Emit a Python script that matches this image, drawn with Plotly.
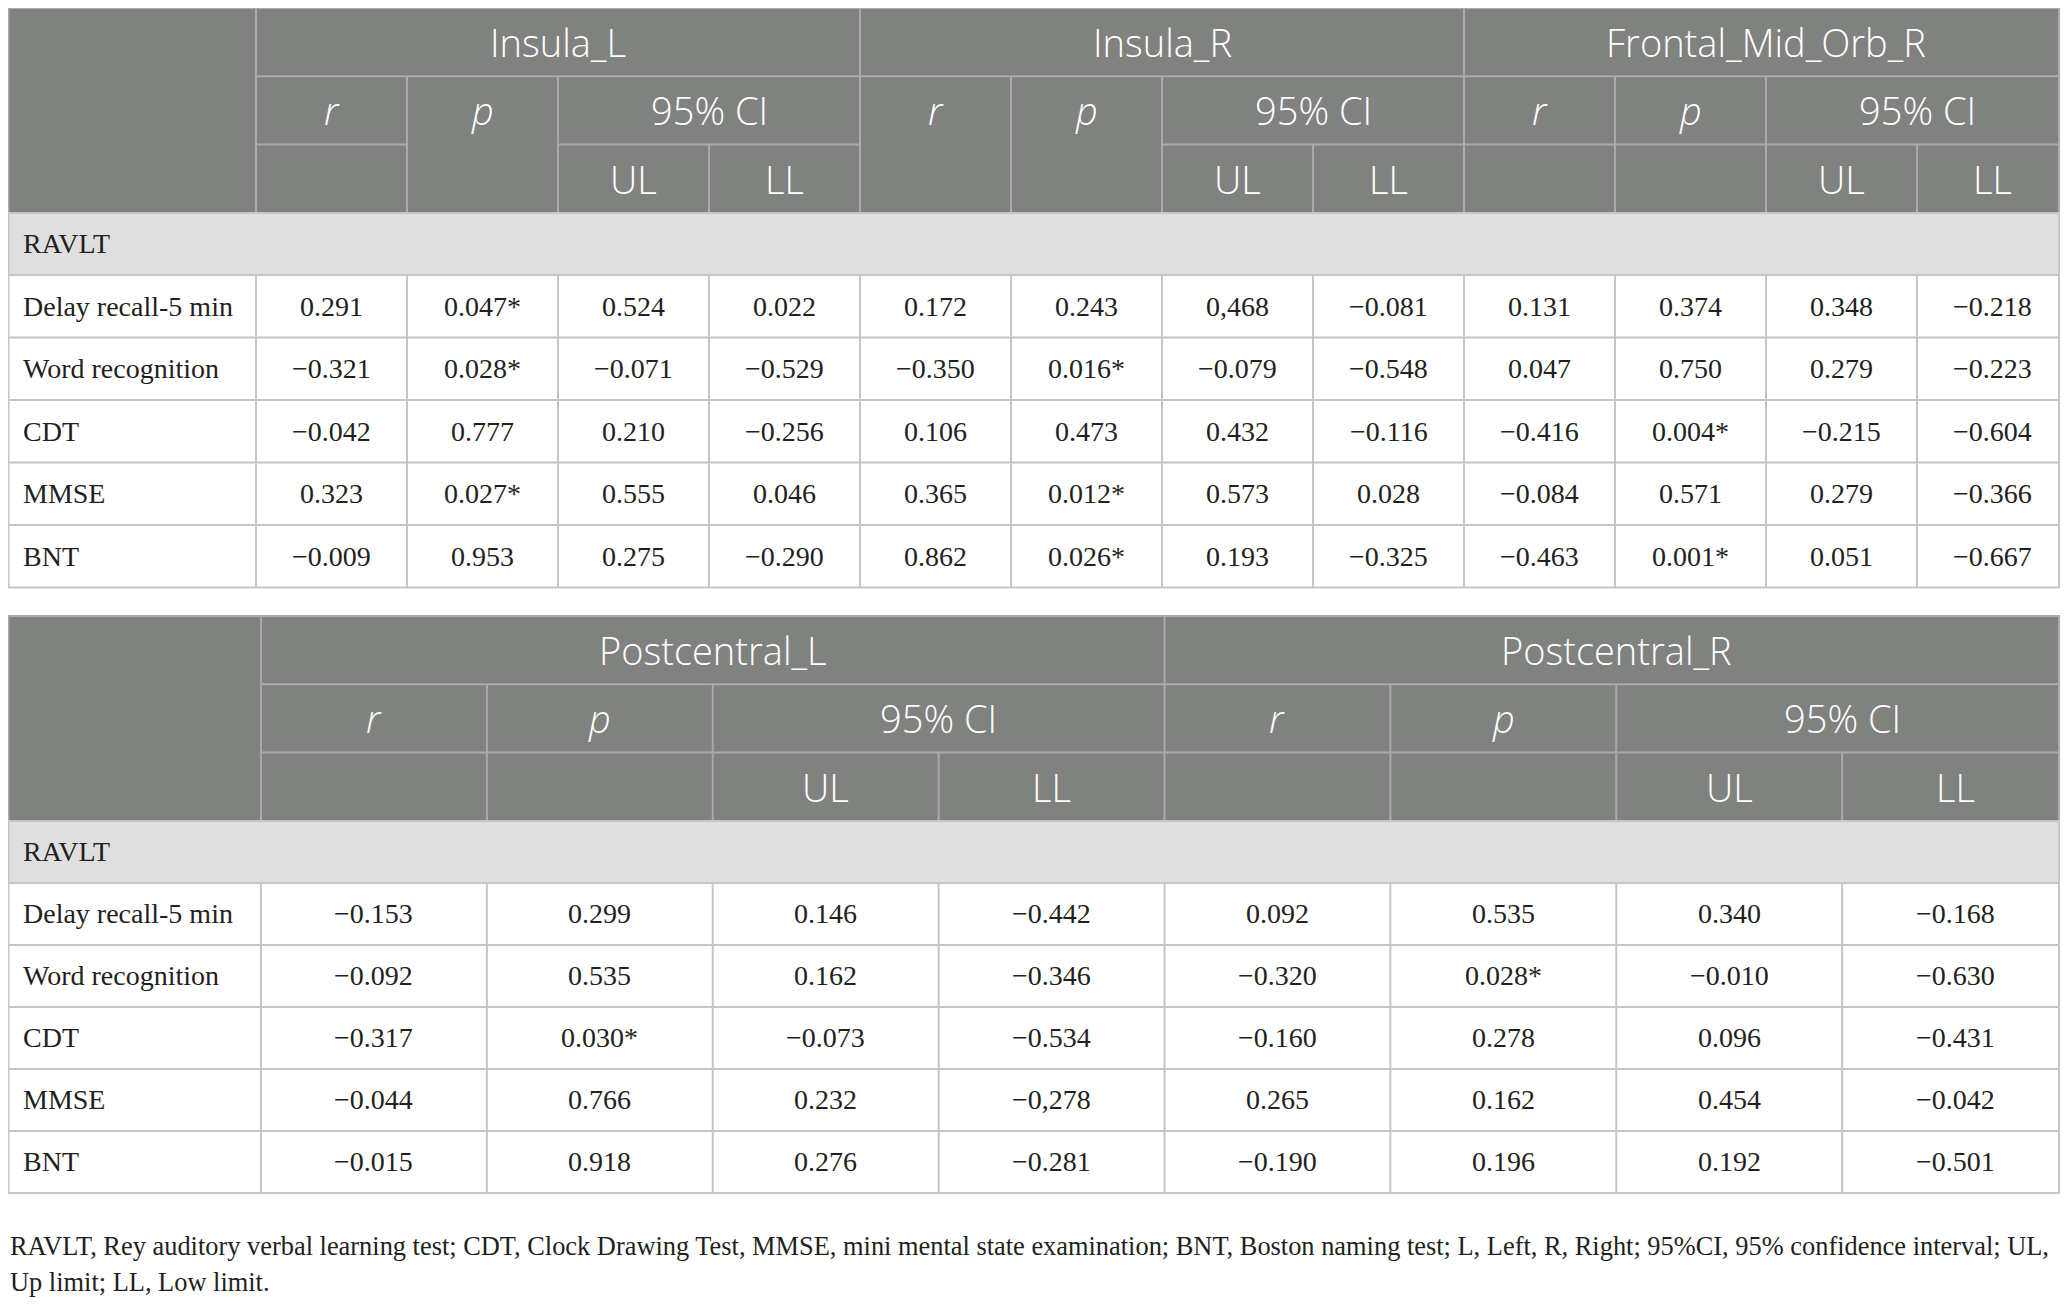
#%% Librerias
import plotly.graph_objects as go

# %% Datos de la tabla
filas = ["Delay recall-5 min", "Word recognition", "CDT", "MMSE", "BNT"]
grupo = "RAVLT"
subcols = ["r", "p", "UL", "LL"]

# Tabla superior
insula_l_r = ["0.291", "−0.321", "−0.042", "0.323", "−0.009"]
insula_l_p = ["0.047*", "0.028*", "0.777", "0.027*", "0.953"]
insula_l_ul = ["0.524", "−0.071", "0.210", "0.555", "0.275"]
insula_l_ll = ["0.022", "−0.529", "−0.256", "0.046", "−0.290"]

insula_r_r = ["0.172", "−0.350", "0.106", "0.365", "0.862"]
insula_r_p = ["0.243", "0.016*", "0.473", "0.012*", "0.026*"]
insula_r_ul = ["0,468", "−0.079", "0.432", "0.573", "0.193"]
insula_r_ll = ["−0.081", "−0.548", "−0.116", "0.028", "−0.325"]

frontal_r = ["0.131", "0.047", "−0.416", "−0.084", "−0.463"]
frontal_p = ["0.374", "0.750", "0.004*", "0.571", "0.001*"]
frontal_ul = ["0.348", "0.279", "−0.215", "0.279", "0.051"]
frontal_ll = ["−0.218", "−0.223", "−0.604", "−0.366", "−0.667"]

# Tabla inferior
postc_l_r = ["−0.153", "−0.092", "−0.317", "−0.044", "−0.015"]
postc_l_p = ["0.299", "0.535", "0.030*", "0.766", "0.918"]
postc_l_ul = ["0.146", "0.162", "−0.073", "0.232", "0.276"]
postc_l_ll = ["−0.442", "−0.346", "−0.534", "−0,278", "−0.281"]

postc_r_r = ["0.092", "−0.320", "−0.160", "0.265", "−0.190"]
postc_r_p = ["0.535", "0.028*", "0.278", "0.162", "0.196"]
postc_r_ul = ["0.340", "−0.010", "0.096", "0.454", "0.192"]
postc_r_ll = ["−0.168", "−0.630", "−0.431", "−0.042", "−0.501"]

nota_1 = ("RAVLT, Rey auditory verbal learning test; CDT, Clock Drawing Test, MMSE, mini mental state "
          "examination; BNT, Boston naming test; L, Left, R, Right; 95%CI, 95% confidence interval; UL,")
nota_2 = "Up limit; LL, Low limit."

# nombre, columnas, (r partido, p partido) en el encabezado
tabla_1 = [
    ("Insula_L", [insula_l_r, insula_l_p, insula_l_ul, insula_l_ll], (True, False)),
    ("Insula_R", [insula_r_r, insula_r_p, insula_r_ul, insula_r_ll], (False, False)),
    ("Frontal_Mid_Orb_R", [frontal_r, frontal_p, frontal_ul, frontal_ll], (True, True)),
]
tabla_2 = [
    ("Postcentral_L", [postc_l_r, postc_l_p, postc_l_ul, postc_l_ll], (True, True)),
    ("Postcentral_R", [postc_r_r, postc_r_p, postc_r_ul, postc_r_ll], (True, True)),
]

# %% Estilos
W, H = 2068, 1311
OFF = 8  # margen por defecto del body en la pagina html
X0 = OFF + 0.5          # borde izquierdo visible
XR = W - OFF - 1        # borde derecho visible
GRIS_HEAD = "#808280"
GRIS_GRUPO = "#e0dfe0"
LINEA_HEAD = "#a9aaa9"
LINEA_BODY = "#c6c6c6"
TXT = "#231f20"
SANS = "Open Sans"
SERIF = "Liberation Serif"
F_HEAD = 38
F_BODY = 28

fig = go.Figure()
shapes = []
annots = []


def linea(x0, y0, x1, y1, color):
    shapes.append(dict(type="line", x0=x0, y0=y0, x1=x1, y1=y1, xref="x", yref="y",
                       line=dict(color=color, width=2)))


def rect(x0, y0, x1, y1, fill):
    shapes.append(dict(type="rect", x0=x0, y0=y0, x1=x1, y1=y1, xref="x", yref="y",
                       fillcolor=fill, line=dict(width=0), layer="below"))


def texto(x, y, s, font, size, color, anchor="center", italic=False, weight="normal"):
    if italic:
        s = "<i>" + s + "</i>"
    annots.append(dict(x=x, y=y, xref="x", yref="y", text=s, showarrow=False,
                       xanchor=anchor, yanchor="middle",
                       font=dict(family=font, size=size, color=color, weight=weight)))


def cab(x, y, s, italic=False):
    texto(x, y, s, SANS, F_HEAD, "white", italic=italic, weight=300)


def dibujar_tabla(top, col0, regiones, h_head=68.3, h_grupo=62, h_fila=62.5):
    n_cols = 4 * len(regiones)
    cw = (W - col0) / n_cols
    xs = [col0 + i * cw for i in range(n_cols + 1)]
    y1, y2, y3 = top + h_head, top + 2 * h_head, top + 3 * h_head
    yg = y3 + h_grupo
    ys = [yg + i * h_fila for i in range(len(filas) + 1)]
    bottom = ys[-1]

    # fondos
    rect(0, top, W, y3, GRIS_HEAD)
    rect(0, y3, W, yg, GRIS_GRUPO)
    rect(0, yg, W, bottom, "white")

    # encabezado
    linea(0, top, W, top, LINEA_HEAD)
    linea(X0, top, X0, y3, LINEA_HEAD)
    linea(XR, top, XR, y3, LINEA_HEAD)
    linea(col0, top, col0, y3, LINEA_HEAD)
    linea(col0, y1, W, y1, LINEA_HEAD)
    for k, (nombre, valores, (r_split, p_split)) in enumerate(regiones):
        xa = xs[4 * k]
        xb = xs[4 * k + 4]
        linea(xb, top, xb, y3, LINEA_HEAD)
        linea(xs[4 * k + 1], y1, xs[4 * k + 1], y3, LINEA_HEAD)
        linea(xs[4 * k + 2], y1, xs[4 * k + 2], y3, LINEA_HEAD)
        linea(xs[4 * k + 3], y2, xs[4 * k + 3], y3, LINEA_HEAD)
        linea(xs[4 * k + 2], y2, xb, y2, LINEA_HEAD)
        if r_split:
            linea(xa, y2, xs[4 * k + 1], y2, LINEA_HEAD)
        if p_split:
            linea(xs[4 * k + 1], y2, xs[4 * k + 2], y2, LINEA_HEAD)
        ym1 = (top + y1) / 2
        ym2 = (y1 + y2) / 2
        ym3 = (y2 + y3) / 2
        cab((xa + xb) / 2, ym1, nombre)
        cab((xs[4 * k] + xs[4 * k + 1]) / 2, ym2, subcols[0], italic=True)
        cab((xs[4 * k + 1] + xs[4 * k + 2]) / 2, ym2, subcols[1], italic=True)
        cab((xs[4 * k + 2] + xb) / 2, ym2, "95% CI")
        cab((xs[4 * k + 2] + xs[4 * k + 3]) / 2, ym3, subcols[2])
        cab((xs[4 * k + 3] + xb) / 2, ym3, subcols[3])

        # valores
        for j, col in enumerate(valores):
            xc = (xs[4 * k + j] + xs[4 * k + j + 1]) / 2
            for i, v in enumerate(col):
                texto(xc, (ys[i] + ys[i + 1]) / 2, v, SERIF, F_BODY, TXT)

    # fila de grupo
    linea(0, y3, W, y3, LINEA_BODY)
    linea(X0, y3, X0, bottom, LINEA_BODY)
    linea(XR, y3, XR, bottom, LINEA_BODY)
    texto(21, (y3 + yg) / 2, grupo, SERIF, F_BODY, TXT, anchor="left")

    # cuerpo
    for y in ys:
        linea(0, y, W, y, LINEA_BODY)
    for x in [col0] + xs[1:-1]:
        linea(x, yg, x, bottom, LINEA_BODY)
    for i, f in enumerate(filas):
        texto(21, (ys[i] + ys[i + 1]) / 2, f, SERIF, F_BODY, TXT, anchor="left")


dibujar_tabla(8, 256, tabla_1)
dibujar_tabla(616, 261, tabla_2, h_grupo=62, h_fila=62)

texto(OFF, 1246, nota_1, SERIF, 26.4, TXT, anchor="left")
texto(OFF, 1282, nota_2, SERIF, 26.4, TXT, anchor="left")

# %% Layout (se compensa el margen de 8 px del body)
fig.update_layout(
    width=W - 2 * OFF, height=H - 2 * OFF - 4,
    margin=dict(l=0, r=0, t=0, b=0),
    paper_bgcolor="white", plot_bgcolor="white",
    xaxis=dict(range=[OFF, W - OFF], visible=False, fixedrange=True),
    yaxis=dict(range=[H - OFF - 4, OFF], visible=False, fixedrange=True),
    shapes=shapes, annotations=annots,
    showlegend=False,
)
fig.write_html("out.html")
